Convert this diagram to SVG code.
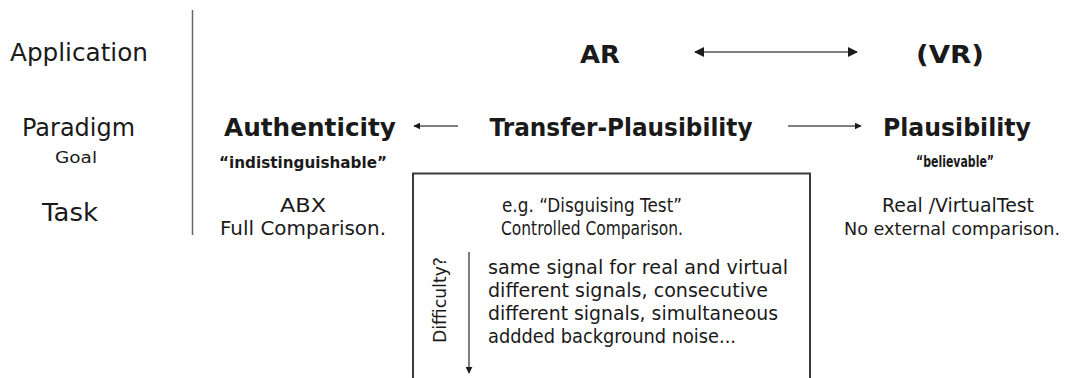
<svg xmlns="http://www.w3.org/2000/svg" width="1073" height="378" viewBox="0 0 1073 378">
  <style>
    text { font-family: "DejaVu Sans", "Liberation Sans", sans-serif; fill: #1a1a1a; }
    .row { font-size: 25px; }
    .small { font-size: 16px; }
    .title { font-size: 25px; font-weight: bold; }
    .quote { font-size: 15px; font-weight: bold; }
    .task { font-size: 20px; }
    .list { font-size: 20px; }
    .side { font-size: 18px; }
    .conn { stroke: #555; stroke-width: 1.5; fill: none; }
    .frame { stroke: #3a3a3a; stroke-width: 2; fill: none; }
  </style>
  <defs>
    <marker id="head" viewBox="0 0 10 10" refX="9" refY="5" markerWidth="7" markerHeight="7" orient="auto-start-reverse" markerUnits="userSpaceOnUse">
      <path d="M0,0 L10,5 L0,10 Z" fill="#1a1a1a"/>
    </marker>
    <marker id="headBig" viewBox="0 0 10 10" refX="9" refY="5" markerWidth="10" markerHeight="10" orient="auto-start-reverse" markerUnits="userSpaceOnUse">
      <path d="M0,0 L10,5 L0,10 Z" fill="#1a1a1a"/>
    </marker>
  </defs>
  <rect width="1073" height="378" fill="#ffffff"/>

  <!-- row labels -->
  <g id="row-labels">
    <text class="row" x="10" y="61" textLength="138" lengthAdjust="spacingAndGlyphs">Application</text>
    <text class="row" x="22" y="136" textLength="113" lengthAdjust="spacingAndGlyphs">Paradigm</text>
    <text class="small" x="55" y="163" textLength="42" lengthAdjust="spacingAndGlyphs">Goal</text>
    <text class="row" x="42" y="221" textLength="56" lengthAdjust="spacingAndGlyphs">Task</text>
  </g>

  <!-- separator between labels and content -->
  <line x1="192.5" y1="10" x2="192.5" y2="235" stroke="#666" stroke-width="1.5"/>

  <g id="ar">
    <text class="title" x="600" y="63" text-anchor="middle" textLength="40" lengthAdjust="spacingAndGlyphs">AR</text>
  </g>
  <g id="vr">
    <text class="title" x="950" y="63" text-anchor="middle" textLength="68" lengthAdjust="spacingAndGlyphs">(VR)</text>
  </g>

  <g id="authenticity">
    <text class="title" x="310" y="136" text-anchor="middle" textLength="172" lengthAdjust="spacingAndGlyphs">Authenticity</text>
    <text class="quote" x="303" y="168" text-anchor="middle" textLength="168" lengthAdjust="spacingAndGlyphs">“indistinguishable”</text>
    <text class="task" x="303" y="212" text-anchor="middle" textLength="46" lengthAdjust="spacingAndGlyphs">ABX</text>
    <text class="task" x="303" y="235" text-anchor="middle" textLength="166" lengthAdjust="spacingAndGlyphs">Full Comparison.</text>
  </g>

  <g id="transfer-plausibility">
    <text class="title" x="621" y="136" text-anchor="middle" textLength="263" lengthAdjust="spacingAndGlyphs">Transfer-Plausibility</text>
    <path class="frame" d="M413,380 V173.5 H810 V380"/>
    <text class="task" x="592" y="212" text-anchor="middle" textLength="180" lengthAdjust="spacingAndGlyphs">e.g. “Disguising Test”</text>
    <text class="task" x="592" y="235" text-anchor="middle" textLength="182" lengthAdjust="spacingAndGlyphs">Controlled Comparison.</text>
    <text class="side" transform="translate(446,300) rotate(-90)" text-anchor="middle" textLength="86" lengthAdjust="spacingAndGlyphs">Difficulty?</text>
    <text class="list" x="488" y="274" textLength="300" lengthAdjust="spacingAndGlyphs">same signal for real and virtual</text>
    <text class="list" x="488" y="297" textLength="280" lengthAdjust="spacingAndGlyphs">different signals, consecutive</text>
    <text class="list" x="488" y="320" textLength="290" lengthAdjust="spacingAndGlyphs">different signals, simultaneous</text>
    <text class="list" x="488" y="343" textLength="248" lengthAdjust="spacingAndGlyphs">addded background noise...</text>
  </g>

  <g id="plausibility">
    <text class="title" x="957" y="136" text-anchor="middle" textLength="148" lengthAdjust="spacingAndGlyphs">Plausibility</text>
    <text class="quote" x="955" y="167" text-anchor="middle" textLength="78" lengthAdjust="spacingAndGlyphs">“believable”</text>
    <text class="task" x="958" y="212" text-anchor="middle" textLength="152" lengthAdjust="spacingAndGlyphs">Real /VirtualTest</text>
    <text class="side" x="952" y="235" text-anchor="middle" textLength="216" lengthAdjust="spacingAndGlyphs">No external comparison.</text>
  </g>

  <!-- connectors -->
  <g id="connectors">
    <line class="conn" x1="695" y1="52" x2="857" y2="52" marker-start="url(#headBig)" marker-end="url(#headBig)"/>
    <line class="conn" x1="458" y1="126" x2="414" y2="126" marker-end="url(#head)"/>
    <line class="conn" x1="788" y1="126" x2="861" y2="126" marker-end="url(#head)"/>
    <line class="conn" x1="469" y1="252" x2="469" y2="373" marker-end="url(#head)"/>
  </g>
</svg>
